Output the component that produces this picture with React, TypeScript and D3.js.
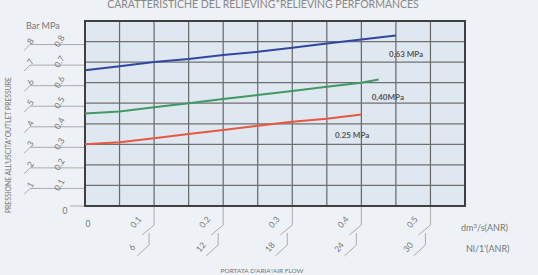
import React from 'react';
import { scaleLinear, line, range } from 'd3';

const width = 538;
const height = 275;

const flowDm3 = [0, 0.05, 0.1, 0.15, 0.2, 0.25, 0.3, 0.35, 0.4, 0.45];
const p063 = [0.66, 0.68, 0.7, 0.715, 0.735, 0.75, 0.77, 0.79, 0.81, 0.83];
const flow040 = [0, 0.05, 0.1, 0.15, 0.2, 0.25, 0.3, 0.35, 0.4, 0.425];
const p040 = [0.45, 0.46, 0.48, 0.5, 0.52, 0.54, 0.56, 0.58, 0.6, 0.615];
const flow025 = [0, 0.05, 0.1, 0.15, 0.2, 0.25, 0.3, 0.35, 0.4];
const p025 = [0.3, 0.31, 0.33, 0.35, 0.37, 0.39, 0.41, 0.425, 0.445];

const xTicks = ['0.1', '0.2', '0.3', '0.4', '0.5'];
const xTicksNl = ['6', '12', '18', '24', '30'];
const yTicksMpa = ['0.1', '0.2', '0.3', '0.4', '0.5', '0.6', '0.7', '0.8'];
const yTicksBar = ['1', '2', '3', '4', '5', '6', '7', '8'];

const series = [
  { name: '0,63 MPa', xs: flowDm3, ys: p063, color: '#3346a0', lx: 0.44, ly: 0.74 },
  { name: '0,40MPa', xs: flow040, ys: p040, color: '#3f9a62', lx: 0.415, ly: 0.53 },
  { name: '0.25 MPa', xs: flow025, ys: p025, color: '#e8573f', lx: 0.362, ly: 0.345 },
];

const font = 'Lato, "DejaVu Sans", sans-serif';
const grey = '#777';

const App = () => {
  const x = scaleLinear().domain([0, 0.55]).range([85, 465]);
  const y = scaleLinear().domain([0, 0.9]).range([206, 21]);
  const path = line<[number, number]>()
    .x((d) => x(d[0]))
    .y((d) => y(d[1]));

  const xGrid = range(12).map((i) => i * 0.05);
  const yGrid = range(10).map((i) => i * 0.1);

  return (
    <svg
      width={width}
      height={height}
      style={{ position: 'absolute', left: 0, top: 0, background: '#eef1f5' }}
    >
      <rect x={85} y={21} width={380} height={185} fill="#dfe7f1" />
      {xGrid.map((v, i) => (
        <line key={'xg' + i} x1={x(v)} x2={x(v)} y1={21} y2={206} stroke="#666" strokeWidth={1.2} />
      ))}
      {yGrid.map((v, i) => (
        <line key={'yg' + i} x1={85} x2={465} y1={y(v)} y2={y(v)} stroke="#707070" strokeWidth={1.2} />
      ))}
      <rect x={85} y={21} width={380} height={185} fill="none" stroke="#404040" strokeWidth={2} />

      <text x={263} y={8} textAnchor="middle" fontSize={10.5} fill="#888" fontFamily={font}>
        CARATTERISTICHE DEL RELIEVING*RELIEVING PERFORMANCES
      </text>

      {series.map((s) => (
        <path
          key={s.name}
          d={path(s.xs.map((v, i) => [v, s.ys[i]] as [number, number])) || ''}
          fill="none"
          stroke={s.color}
          strokeWidth={2}
        />
      ))}
      {series.map((s) => (
        <text key={'l' + s.name} x={x(s.lx)} y={y(s.ly) + 3} fontSize={8} fontWeight="bold" fill="#555" fontFamily={font}>
          {s.name}
        </text>
      ))}

      <text x={26} y={29} fontSize={9} fill={grey} fontFamily={font}>
        Bar MPa
      </text>
      {yTicksMpa.map((t, i) => {
        const yy = y(+t);
        return (
          <g key={'yt' + i} fill={grey} fontFamily={font}>
            <polyline
              points={`24,${yy + 9} 30,${yy + 3} 84,${yy + 3}`}
              fill="none"
              stroke="#999"
              strokeWidth={0.8}
            />
            <text transform={`translate(33,${yy + 1}) rotate(-60)`} fontSize={8.5} textAnchor="middle">
              {yTicksBar[i]}
            </text>
            <text transform={`translate(62,${yy + 1}) rotate(-60)`} fontSize={8.5} textAnchor="middle">
              {t}
            </text>
          </g>
        );
      })}
      <text x={65} y={214} fontSize={8.5} fill={grey} textAnchor="middle" fontFamily={font}>
        0
      </text>
      <line x1={70} x2={84} y1={206} y2={206} stroke="#999" strokeWidth={0.8} />
      <text transform="translate(11,213) rotate(-90)" fontSize={6.8} fill={grey} fontFamily={font}>
        PRESSIONE ALL'USCITA*OUTLET PRESSURE
      </text>

      <text x={88} y={227} fontSize={8.5} fill={grey} textAnchor="middle" fontFamily={font}>
        0
      </text>
      {xTicks.map((t, i) => {
        const xx = x(+t);
        return (
          <g key={'xt' + i} fill={grey} fontFamily={font}>
            <polyline
              points={`${xx},207 ${xx},225 ${xx - 12},235`}
              fill="none"
              stroke="#999"
              strokeWidth={0.8}
            />
            <polyline
              points={`${xx - 5},233 ${xx - 5},245 ${xx - 17},256`}
              fill="none"
              stroke="#999"
              strokeWidth={0.8}
            />
            <text transform={`translate(${xx - 16},224) rotate(-50)`} fontSize={8.5} textAnchor="middle">
              {t}
            </text>
            <text transform={`translate(${xx - 20},249) rotate(-50)`} fontSize={8.5} textAnchor="middle">
              {xTicksNl[i]}
            </text>
          </g>
        );
      })}
      <text x={461} y={231} fontSize={9} fill={grey} fontFamily={font}>
        dm<tspan dy={-3} fontSize={6}>3</tspan>
        <tspan dy={3}>/s(ANR)</tspan>
      </text>
      <text x={466} y={252} fontSize={9} fill={grey} fontFamily={font}>
        Nl/1'(ANR)
      </text>
      <text x={262} y={273} fontSize={6.5} fill={grey} textAnchor="middle" fontFamily={font}>
        PORTATA D'ARIA*AIR FLOW
      </text>
    </svg>
  );
};

export default App;
